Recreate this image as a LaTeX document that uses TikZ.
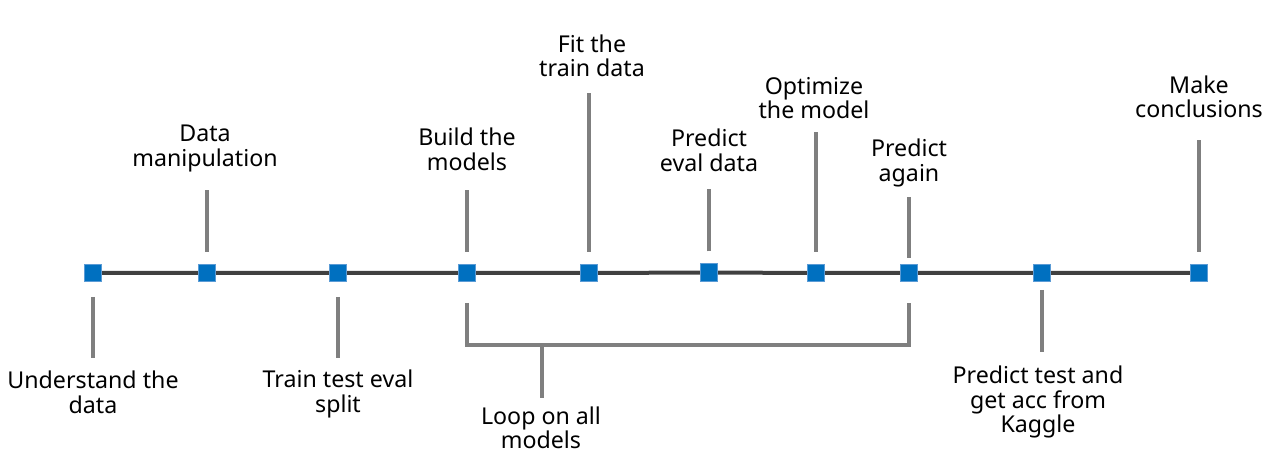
\documentclass[tikz,border=0pt]{standalone}
\usepackage{fontspec}
\setmainfont{Noto Sans}
\usepackage{xcolor}
\definecolor{markblue}{HTML}{0070C0}
\definecolor{markedge}{HTML}{5B9BD5}
\definecolor{axisgray}{HTML}{404040}
\definecolor{stemgray}{HTML}{7F7F7F}
\usetikzlibrary{backgrounds}
\tikzset{marker/.style={draw=markedge,line width=0.5pt,fill=markblue,minimum size=13pt,inner sep=0pt},
 axis/.style={draw=axisgray,line width=3pt},
 stem/.style={draw=stemgray,line width=2.4pt},
 lbl/.style={align=center,font=\fontsize{17.4}{18.4}\selectfont,inner sep=0pt},
 }

\begin{document}
\begin{tikzpicture}[x=0.75pt,y=0.75pt]
        \useasboundingbox (0,0) rectangle (1288,468);
        % markers on the time line
        \node[marker] (m1) at (93,195) {};
        \node[marker] (m2) at (207,195) {};
        \node[marker] (m3) at (338,195) {};
        \node[marker] (m4) at (467,195) {};
        \node[marker] (m5) at (589,195) {};
        \node[marker] (m6) at (709,195.5) {};
        \node[marker] (m7) at (816,195) {};
        \node[marker] (m8) at (909,195) {};
        \node[marker] (m9) at (1042,195) {};
        \node[marker] (m10) at (1199,195) {};
        \begin{scope}[on background layer]
        \draw[axis] (m1) -- (m2) -- (m3) -- (m4) -- (m5) -- (m6) -- (m7) -- (m8) -- (m9) -- (m10);
        \end{scope}
        % labels
        \node[lbl] (l1) at (93,75.5) {Understand the\\data};
        \node[lbl] (l2) at (205,319.5) {Data\\manipulation};
        \node[lbl] (l3) at (338,74) {Train test eval\\split};
        \node[lbl] (l4) at (467,318.5) {Build the\\models};
        \node[lbl] (l5) at (592,412) {Fit the\\train data};
        \node[lbl] (l6) at (709,317.5) {Predict\\eval data};
        \node[lbl] (l7) at (814,370) {Optimize\\the model};
        \node[lbl] (l8) at (909,305) {Predict\\again};
        \node[lbl] (l9) at (1038,66) {Predict test and\\get acc from\\Kaggle};
        \node[lbl] (l10) at (1199,371) {Make\\conclusions};
        \node[lbl] (loop) at (541,40) {Loop on all\\models};
        % stems
        \draw[stem] (m1) ++(0,-24) -- ++(0,-61);
        \draw[stem] (m2) ++(0,21) -- ++(0,62);
        \draw[stem] (m3) ++(0,-24) -- ++(0,-61);
        \draw[stem] (m4) ++(0,21) -- ++(0,62);
        \draw[stem] (m5) ++(0,21) -- ++(0,159);
        \draw[stem] (m6) ++(0,21) -- ++(0,62);
        \draw[stem] (m7) ++(0,21) -- ++(0,120);
        \draw[stem] (m8) ++(0,15) -- ++(0,61);
        \draw[stem] (m9) ++(0,-17) -- ++(0,-62);
        \draw[stem] (m10) ++(0,21) -- ++(0,112);
        % bracket for the loop
        \coordinate (bl) at (467,165);
        \coordinate (br) at (909,165);
        \coordinate (bm) at (542,123);
        \draw[stem] (bl) |- (bm) -| (br);
        \draw[stem] (bm) -- ++(0,-53);
    \end{tikzpicture}
\end{document}
